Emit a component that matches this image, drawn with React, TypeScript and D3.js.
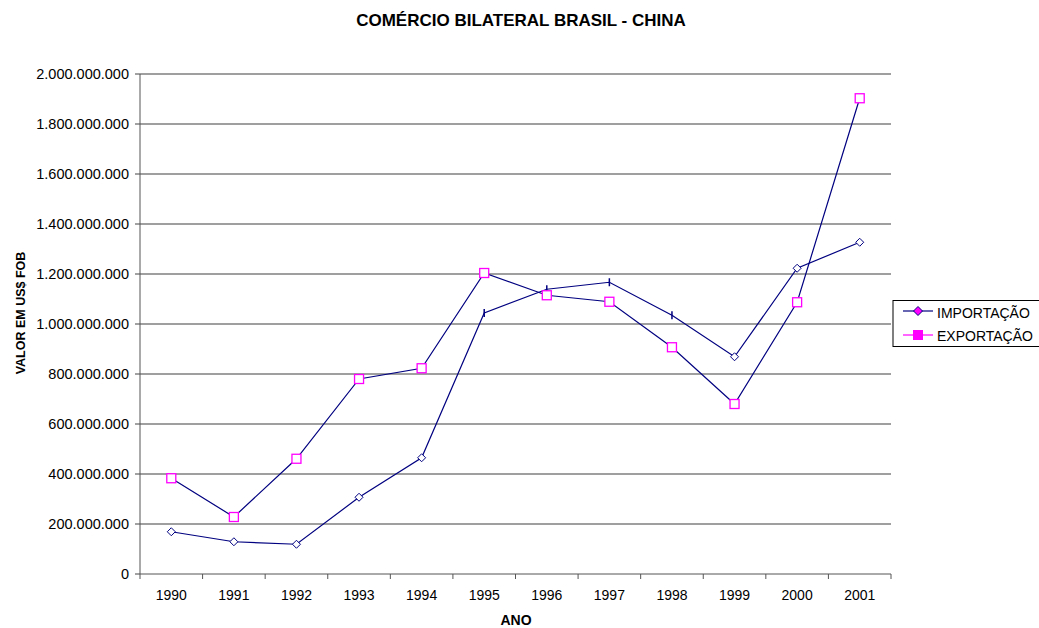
import React from "react";
import * as d3 from "d3";

const years = ["1990","1991","1992","1993","1994","1995","1996","1997","1998","1999","2000","2001"];
const importacao = [169e6, 129e6, 119e6, 307e6, 465e6, 1044e6, 1139e6, 1167e6, 1035e6, 869e6, 1223e6, 1327e6];
const exportacao = [383e6, 228e6, 461e6, 780e6, 823e6, 1204e6, 1115e6, 1089e6, 907e6, 680e6, 1087e6, 1903e6];
const yTicks = [0, 200e6, 400e6, 600e6, 800e6, 1000e6, 1200e6, 1400e6, 1600e6, 1800e6, 2000e6];
// years where the import marker renders as a vertical tick in the reference
const tickMarkerYears = ["1995","1996","1997","1998"];

const W = 1039, H = 628;
const left = 140, right = 891, top = 74, bottom = 574;
const FONT = "'Liberation Sans', Arial, sans-serif";
const NAVY = "#000080";
const MAGENTA = "#ff00ff";

const fmt = (v: number) => v === 0 ? "0" : d3.format(",")(v).replace(/,/g, ".");

export default function App() {
  const x = d3.scaleBand<string>().domain(years).range([left, right]);
  const y = d3.scaleLinear().domain([0, 2e9]).range([bottom, top]);
  const cx = (yr: string) => (x(yr) as number) + x.bandwidth() / 2;
  const line = d3.line<number>().x((_, i) => cx(years[i])).y(d => y(d));

  const diamond = (px: number, py: number, key: string, fill = "white", r = 4) => (
    <path key={key} d={`M${px},${py - r}L${px + r},${py}L${px},${py + r}L${px - r},${py}Z`} fill={fill} stroke={NAVY} strokeWidth={1} />
  );

  return (
    <svg width={W} height={H} style={{ position: "absolute", left: 0, top: 0, background: "white" }}>
      <text x={521} y={26} textAnchor="middle" fontFamily={FONT} fontWeight="bold" fontSize={17}>COMÉRCIO BILATERAL BRASIL - CHINA</text>

      {yTicks.map(t => (
        <g key={t}>
          {t > 0 && <line x1={left} x2={right} y1={y(t)} y2={y(t)} stroke="#000" strokeWidth={1} opacity={0.75} />}
          <line x1={left - 5} x2={left} y1={y(t)} y2={y(t)} stroke="#444" />
          <text x={left - 11} y={y(t) + 5} textAnchor="end" fontFamily={FONT} fontSize={14.5}>{fmt(t)}</text>
        </g>
      ))}
      <line x1={left} x2={left} y1={top} y2={bottom} stroke="#555" />
      <line x1={left} x2={right} y1={bottom} y2={bottom} stroke="#555" />
      {years.map((yr) => (
        <line key={"t" + yr} x1={(x(yr) as number)} x2={(x(yr) as number)} y1={bottom} y2={bottom + 5} stroke="#555" />
      ))}
      <line x1={right} x2={right} y1={bottom} y2={bottom + 5} stroke="#555" />
      {years.map(yr => (
        <text key={"l" + yr} x={cx(yr)} y={600} textAnchor="middle" fontFamily={FONT} fontSize={14}>{yr}</text>
      ))}
      <text x={516} y={625} textAnchor="middle" fontFamily={FONT} fontWeight="bold" fontSize={14}>ANO</text>
      <text transform={`translate(25,313) rotate(-90)`} textAnchor="middle" fontFamily={FONT} fontWeight="bold" fontSize={12.5}>VALOR EM US$ FOB</text>

      <path d={line(importacao) || ""} fill="none" stroke={NAVY} strokeWidth={1.2} />
      <path d={line(exportacao) || ""} fill="none" stroke={NAVY} strokeWidth={1.2} />

      {importacao.map((v, i) => {
        const px = cx(years[i]), py = y(v);
        if (tickMarkerYears.includes(years[i])) {
          return <line key={"im" + i} x1={px} x2={px} y1={py - 4} y2={py + 4} stroke={NAVY} strokeWidth={1.5} />;
        }
        return diamond(px, py, "im" + i);
      })}
      {exportacao.map((v, i) => (
        <rect key={"ex" + i} x={cx(years[i]) - 4.5} y={y(v) - 4.5} width={9} height={9} fill="white" stroke={MAGENTA} strokeWidth={1.3} />
      ))}

      <g>
        <rect x={893} y={300.5} width={160} height={46} fill="white" stroke="#000" strokeWidth={1} />
        <line x1={903} x2={933} y1={311} y2={311} stroke={NAVY} strokeWidth={1.2} />
        {diamond(918, 311, "lg1", MAGENTA, 4.5)}
        <text x={937} y={318} fontFamily={FONT} fontSize={14}>IMPORTAÇÃO</text>
        <line x1={903} x2={933} y1={335} y2={335} stroke={MAGENTA} strokeWidth={1.2} />
        <rect x={913.5} y={330.5} width={9} height={9} fill={MAGENTA} stroke={MAGENTA} />
        <text x={937} y={341} fontFamily={FONT} fontSize={14}>EXPORTAÇÃO</text>
      </g>
    </svg>
  );
}
